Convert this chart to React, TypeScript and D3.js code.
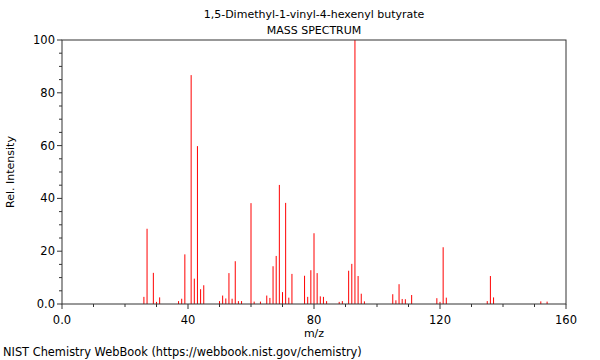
import React from "react";
import * as d3 from "d3";

const title = "1,5-Dimethyl-1-vinyl-4-hexenyl butyrate";
const subtitle = "MASS SPECTRUM";
const xLabel = "m/z";
const yLabel = "Rel. Intensity";
const footer = "NIST Chemistry WebBook (https://webbook.nist.gov/chemistry)";

const mz = [26, 27, 29, 30, 31, 37, 38, 39, 41, 42, 43, 44, 45, 50, 51, 52, 53, 54, 55, 56, 57, 60, 61, 63, 65, 66, 67, 68, 69, 70, 71, 72, 73, 77, 78, 79, 80, 81, 82, 83, 84, 88, 89, 91, 92, 93, 94, 95, 96, 105, 106, 107, 108, 109, 111, 119, 120, 121, 122, 135, 136, 137, 152, 154];
const intensity = [2.7, 28.5, 11.8, 0.8, 2.5, 1.1, 2.0, 18.8, 86.7, 9.6, 59.8, 5.6, 7.1, 1.1, 3.2, 2.1, 11.7, 2.0, 16.2, 1.1, 1.1, 38.2, 0.9, 0.9, 3.2, 2.3, 14.3, 18.2, 45.1, 4.5, 38.3, 2.4, 11.4, 10.7, 2.7, 12.8, 26.8, 11.7, 2.9, 2.7, 1.1, 0.8, 1.1, 12.6, 15.2, 100, 10.6, 3.9, 1.0, 3.7, 1.4, 7.5, 1.9, 1.8, 3.4, 2.2, 0.8, 21.5, 2.4, 1.1, 10.6, 2.5, 1.0, 0.9];

const xMajor = [0, 40, 80, 120, 160];
const yMajor = [0, 20, 40, 60, 80, 100];

export default function App() {
  const W = 600, H = 360;
  const left = 62, right = 566, top = 40, bottom = 304;
  const x = d3.scaleLinear().domain([0, 160]).range([left, right]);
  const y = d3.scaleLinear().domain([0, 100]).range([bottom, top]);
  const xMinor = d3.range(0, 161, 10).filter((v) => v % 40 !== 0);
  const yMinor = d3.range(0, 101, 5).filter((v) => v % 20 !== 0);
  const fmt = (v: number) => (v === 0 ? "0.0" : String(v));
  const font = "DejaVu Sans, sans-serif";
  const axisColor = "#333";
  return (
    <svg width={W} height={H} style={{ position: "absolute", left: 0, top: 0 }} fontFamily={font}>
      <rect x={0} y={0} width={W} height={H} fill="white" />
      <text x={314} y={18} textAnchor="middle" fontSize={11}>{title}</text>
      <text x={314} y={34} textAnchor="middle" fontSize={11}>{subtitle}</text>
      {mz.map((m, i) => (
        <line key={m} x1={x(m)} x2={x(m)} y1={y(0)} y2={y(intensity[i])} stroke="#ff0000" strokeWidth={1} />
      ))}
      <rect x={left} y={top} width={right - left} height={bottom - top} fill="none" stroke={axisColor} strokeWidth={1} />
      {xMajor.map((v) => (
        <g key={"xm" + v}>
          <line x1={x(v)} x2={x(v)} y1={bottom} y2={bottom + 5} stroke={axisColor} />
          <text x={x(v)} y={bottom + 20} textAnchor="middle" fontSize={11.5}>{fmt(v)}</text>
        </g>
      ))}
      {xMinor.map((v) => (
        <line key={"xn" + v} x1={x(v)} x2={x(v)} y1={bottom} y2={bottom + 3} stroke={axisColor} />
      ))}
      {yMajor.map((v) => (
        <g key={"ym" + v}>
          <line x1={left - 5} x2={left} y1={y(v)} y2={y(v)} stroke={axisColor} />
          <text x={left - 7} y={y(v) + 4} textAnchor="end" fontSize={11.5}>{fmt(v)}</text>
        </g>
      ))}
      {yMinor.map((v) => (
        <line key={"yn" + v} x1={left - 3} x2={left} y1={y(v)} y2={y(v)} stroke={axisColor} />
      ))}
      <text x={314} y={337} textAnchor="middle" fontSize={11}>{xLabel}</text>
      <text transform={`translate(14,${(top + bottom) / 2}) rotate(-90)`} textAnchor="middle" fontSize={11}>{yLabel}</text>
      <text x={3} y={356} fontSize={11.4}>{footer}</text>
    </svg>
  );
}
